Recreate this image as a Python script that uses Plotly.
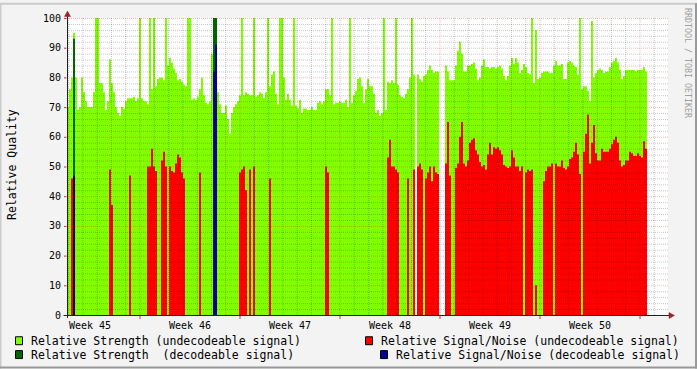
import plotly.graph_objects as go

_ = None

week_labels = ["Week 45", "Week 46", "Week 47", "Week 48", "Week 49", "Week 50"]

# Relative Strength (undecodeable signal)
strength_undec = [
    70, 76, 80, 95, 80, 69, 70, 80, 75, 72,
    70, 70, 70, 75, 100, 100, 78, 78, 75, 69,
    72, 86, 78, 75, 70, 68, 67, 70, 69.5, 72,
    73, 73, 73, 73.5, 72, 73, 100, 73, 72, 72,
    71, 100, 76, 100, 77, 79.5, 80, 80, 79, 100,
    84, 86.5, 85, 83, 81.5, 79, 79.5, 78.5, 77.5, 77,
    100, 100, 72.5, 73, 72.5, 73.5, 76, 80, 74, 71.5,
    71, 72, 88, 100, 100, 75, 71, 68, 68, 70.5,
    66, 61, 68, 70, 71, 72, 74, 100, 74, 75,
    74.5, 74, 74, 100, 73.5, 74, 75, 74.5, 73, 75,
    100, 77, 81, 82, 74.5, 71, 100, 100, 80, 72.5,
    74.5, 72.5, 70.5, 100, 70.5, 69.5, 72.5, 68, 69.5, 69.5,
    69, 69, 70, 69, 69, 71.5, 72, 71, 72, 76,
    76, 74, 100, 71, 71.5, 71.5, 72, 71.5, 71.5, 72.5,
    70, 100, 71.5, 74, 75.5, 79.5, 80, 77, 71.5, 76,
    79.5, 77, 77, 74.5, 68, 69, 67, 68, 100, 69,
    78.5, 78, 79, 78, 100, 77.5, 74, 73.5, 73, 74.5,
    76, 80, 100, 81, _, 81, 79.5, 78.5, 80.5, 81,
    82.5, 84, 82.5, 81.5, 82, 82, _, _, _, 84,
    82, 79, 79, 79, 84, 89, 92, 88, 82, 82,
    84, 84, 84.5, 85, 83, 79, 80, 84, 86, 83.5,
    83.5, 83, 83.5, 83.5, 83, 83.5, 84, 83, 80.5, 79,
    80.5, 84, 86.5, 84.5, 86.5, 85, 81.5, 82.5, 84.5, 83.5,
    81.5, 81, 100, 78, 96, 79.5, 80, 81.5, 82, 82,
    82, 81.5, 81.5, 84, 85.5, 84, 84, 84.5, 79.5, 79.5,
    85, 85.5, 85, 84, 83.5, 81, 100, 76, 77, 77,
    75.5, 72, 99, 80, 81.5, 82.5, 83, 82.5, 81.5, 82,
    82, 83.5, 85, 85.5, 86.5, 85, 82.5, 79.5, 80.5, 82.5,
    82.5, 82.5, 82.5, 82.5, 82, 82.5, 82.5, 82.5, 83.5, 82,
]

# Relative Strength (decodeable signal)
strength_dec = [_] * 290
strength_dec[3] = 93
strength_dec[73] = 100
strength_dec[74] = 100

# Relative Signal/Noise (undecodeable signal)
snr_undec = [
    _, _, 46, _, _, _, _, _, _, _,
    _, _, _, _, _, _, _, _, _, _,
    _, 49, 37, _, _, _, _, _, _, _,
    _, 47, _, _, _, _, _, _, _, _,
    50, 50, 56, 50, 48.5, _, _, 52, 55, 50,
    _, 50, 48.5, 48, 51, 54, 53, 48, 46, _,
    _, _, _, _, _, _, 48, _, _, _,
    _, _, _, _, _, _, _, _, _, _,
    _, _, _, _, _, _, 48, 49, 50, 42,
    _, 49, _, 50, _, _, _, _, _, _,
    _, 46, _, _, _, _, _, _, _, _,
    _, _, _, _, _, _, _, _, _, _,
    _, _, _, _, _, _, _, _, _, 50,
    48, _, _, _, _, _, _, _, _, _,
    _, _, _, _, _, _, _, _, _, _,
    _, _, _, _, _, _, _, _, _, _,
    53, 59, 50, 50, 49, 48, _, _, _, _,
    46, _, _, 49, _, 50, 51, 49, _, 46,
    48, 50, 45, 50, 48, 47.5, _, _, _, 51,
    65, 47, _, _, 49.5, 51, 60, 65, 51, 50,
    52, 58, 59, 59.5, 55.5, 54, 51.5, 50, 50.5, 49,
    54, 58, 54, 56.5, 56, 56.5, 55.5, 54, 50.5, 50,
    49.5, 50, 55.5, 53, 50, 50, 48.5, 50, _, 48,
    49, 48.5, 49, _, 10, _, _, _, 45, 48.5,
    50, 50, 51, _, 51, 50, 50, 52, 49.5, 49,
    50, 52.5, 53, 55, 58, 54, 47.5, _, 55, 61,
    67.5, 51, 58, 64, 54.5, 52, 52, 56, 55, 55,
    55, 56, 57.5, 59, 60, 58, 52, 50, 50.5, 52,
    52, 55, 54.5, 53.5, 53.5, 54.5, 53.5, 53, 58.5, 56,
]

# Relative Signal/Noise (decodeable signal)
snr_dec = [_] * 290
snr_dec[3] = 47
snr_dec[73] = 82
snr_dec[74] = 91

# time axis (hours since start of week 45)
STEP_H = 3.36
T_START = 45.36
T_END = 1055.04
WEEK_H = 168
DAY_H = 24

n = len(strength_undec)
t_edges = [T_START + STEP_H * i for i in range(n + 1)]


def step_area(vals):
    """Build RRD-like AREA outline (step polygons, split at unknown samples)."""
    xs, ys = [], []
    i = 0
    while i < len(vals):
        if vals[i] is None:
            i += 1
            continue
        j = i
        px_, py_ = [t_edges[i]], [0]
        while j < len(vals) and vals[j] is not None:
            px_ += [t_edges[j], t_edges[j + 1]]
            py_ += [vals[j], vals[j]]
            j += 1
        px_.append(t_edges[j])
        py_.append(0)
        xs += px_ + [None]
        ys += py_ + [None]
        i = j
    return xs, ys


C_STR_UNDEC = "#80FF00"
C_STR_DEC = "#006600"
C_SNR_UNDEC = "#FF0000"
C_SNR_DEC = "#000099"

fig = go.Figure()
for name, vals, col in [
    ("Relative Strength (undecodeable signal)", strength_undec, C_STR_UNDEC),
    ("Relative Strength  (decodeable signal)", strength_dec, C_STR_DEC),
    ("Relative Signal/Noise (undecodeable signal)", snr_undec, C_SNR_UNDEC),
    ("Relative Signal/Noise (decodeable signal)", snr_dec, C_SNR_DEC),
]:
    xs, ys = step_area(vals)
    fig.add_trace(go.Scatter(x=xs, y=ys, name=name, mode="lines", fill="toself",
                             fillcolor=col, line=dict(width=0, color=col),
                             connectgaps=False, showlegend=False, hoverinfo="skip"))

W, H = 697, 369
L, R, T, B = 67, 29, 15, 54
PW, PH = W - L - R, H - T - B


def px(xp):
    return (xp - L) / PW


def py(yp):
    return (H - B - yp) / PH


shapes = []
MONO = "DejaVu Sans Mono"
MINOR = "rgba(0,0,0,0.22)"
MAJOR = "rgba(210,0,0,0.28)"

# horizontal grid
for v in range(0, 101, 2):
    yv = v - 0.5 / 3
    shapes.append(dict(type="line", xref="x", yref="y", x0=T_START, x1=T_END,
                       y0=yv, y1=yv, layer="above",
                       line=dict(color=MAJOR if v % 10 == 0 else MINOR, width=1, dash="1px,1px")))
# vertical grid
k = 0
while k * DAY_H <= T_END:
    xv = k * DAY_H
    if xv > T_START:
        major = (xv % WEEK_H == 0)
        shapes.append(dict(type="line", xref="x", yref="y", x0=xv, x1=xv, y0=0, y1=100,
                           layer="above",
                           line=dict(color=MAJOR if major else MINOR, width=1, dash="1px,1px")))
        if major:
            shapes.append(dict(type="line", xref="x", yref="paper", x0=xv, x1=xv,
                               y0=py(316), y1=py(319), layer="above",
                               line=dict(color="#CC3333", width=1)))
    k += 1
# y ticks left of axis
for v in range(0, 101, 10):
    shapes.append(dict(type="line", xref="paper", yref="y", x0=px(64), x1=px(66.5),
                       y0=v - 0.5 / 3, y1=v - 0.5 / 3, layer="above",
                       line=dict(color="#CC3333", width=1)))

# axes lines
AX = "#202020"
shapes.append(dict(type="line", xref="paper", yref="paper", x0=px(63.5), x1=px(670),
                   y0=py(315.5), y1=py(315.5), layer="above", line=dict(color=AX, width=1)))
shapes.append(dict(type="line", xref="paper", yref="paper", x0=px(67.5), x1=px(67.5),
                   y0=py(318), y1=py(12), layer="above", line=dict(color=AX, width=1)))
# arrows
ARR = "#992222"
shapes.append(dict(type="path", xref="paper", yref="paper", layer="above",
                   path=f"M {px(64.5)} {py(13.5)} L {px(70.5)} {py(13.5)} L {px(67.5)} {py(8)} Z",
                   fillcolor=ARR, line=dict(color=ARR, width=0.5)))
shapes.append(dict(type="path", xref="paper", yref="paper", layer="above",
                   path=f"M {px(669)} {py(312.5)} L {px(669)} {py(318.5)} L {px(674.5)} {py(315.5)} Z",
                   fillcolor=ARR, line=dict(color=ARR, width=0.5)))

# outer 3D frame
shapes += [
    dict(type="line", xref="paper", yref="paper", x0=px(0), x1=px(W), y0=py(0.5), y1=py(0.5),
         line=dict(color="#CBCBCB", width=2)),
    dict(type="line", xref="paper", yref="paper", x0=px(0.5), x1=px(0.5), y0=py(0), y1=py(H),
         line=dict(color="#CBCBCB", width=2)),
    dict(type="line", xref="paper", yref="paper", x0=px(0), x1=px(W), y0=py(H - 1), y1=py(H - 1),
         line=dict(color="#999999", width=2)),
    dict(type="line", xref="paper", yref="paper", x0=px(W - 1), x1=px(W - 1), y0=py(0), y1=py(H),
         line=dict(color="#999999", width=2)),
]

annotations = []
# legend
legend_items = [
    (15, 341, "Relative Strength (undecodeable signal)", C_STR_UNDEC),
    (15, 355, "Relative Strength  (decodeable signal)", C_STR_DEC),
    (365, 341, "Relative Signal/Noise (undecodeable signal)", C_SNR_UNDEC),
    (380, 355, "Relative Signal/Noise (decodeable signal)", C_SNR_DEC),
]
for bx, by, txt, col in legend_items:
    shapes.append(dict(type="rect", xref="paper", yref="paper",
                       x0=px(bx + 0.5), x1=px(bx + 7.5), y0=py(by - 4), y1=py(by + 4),
                       fillcolor=col, line=dict(color="#000000", width=1)))
    annotations.append(dict(xref="paper", yref="paper", x=px(bx + 14), y=py(by),
                            xanchor="left", yanchor="middle", showarrow=False, text=txt,
                            font=dict(family=MONO, size=11.5, color="#000000")))

annotations.append(dict(xref="paper", yref="paper", x=px(12), y=py(163.5), textangle=-90,
                        showarrow=False, text="Relative Quality", xanchor="center", yanchor="middle",
                        font=dict(family=MONO, size=11.5, color="#000000")))
annotations.append(dict(xref="paper", yref="paper", x=px(688.5), y=py(60), textangle=90,
                        showarrow=False, text="RRDTOOL / TOBI OETIKER", xanchor="center",
                        yanchor="middle", font=dict(family=MONO, size=8.3, color="#A0A0A0")))

fig.update_layout(
    width=W, height=H,
    margin=dict(l=L, r=R, t=T, b=B, pad=0),
    paper_bgcolor="#F3F3F3", plot_bgcolor="#FFFFFF",
    showlegend=False,
    xaxis=dict(range=[T_START, T_END], showgrid=False, zeroline=False, showline=False,
               tickvals=[WEEK_H * k + WEEK_H / 2 for k in range(len(week_labels))],
               ticktext=week_labels, ticks="", ticklabelstandoff=3,
               tickfont=dict(family=MONO, size=10, color="#000000"), fixedrange=True),
    yaxis=dict(range=[0, 100], showgrid=False, zeroline=False, showline=False,
               tickvals=list(range(0, 101, 10)), ticks="", ticklabelstandoff=5,
               tickfont=dict(family=MONO, size=10, color="#000000"), fixedrange=True),
    shapes=shapes,
    annotations=annotations,
)

fig.write_html("out.html")
